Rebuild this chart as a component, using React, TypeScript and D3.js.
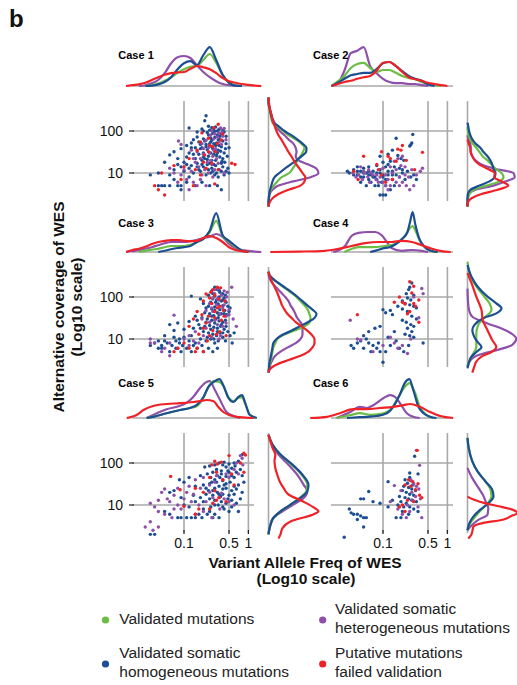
import React from 'react';
import * as d3 from 'd3';

type Pair = [number, number];

// ---------- labels ----------
const CASE_LABELS = ['Case 1', 'Case 2', 'Case 3', 'Case 4', 'Case 5', 'Case 6'];
const X_TICKS = [0.1, 0.5, 1];
const X_TICK_LABELS = ['0.1', '0.5', '1'];
const Y_TICKS = [10, 100];
const Y_TICK_LABELS = ['10', '100'];
const LEGEND_ITEMS = [
  { key: 'green', lines: ['Validated mutations'] },
  { key: 'purple', lines: ['Validated somatic', 'heterogeneous mutations'] },
  { key: 'blue', lines: ['Validated somatic', 'homogeneous mutations'] },
  { key: 'red', lines: ['Putative mutations', 'failed validation'] },
];
const COLORS: Record<string, string> = {
  green: '#6cbd45',
  blue: '#1c4f92',
  purple: '#8e50aa',
  red: '#ee2227',
};

// helper: density values sampled every 0.1 (log10 units) starting at `start`
const grid = (start: number, values: number[]): Pair[] =>
  values.map((v, i) => [Math.round((start + i * 0.1) * 100) / 100, v]);

// ---------- scatter points [VAF, alt coverage] ----------
const case1Blue: Pair[] = [[0.22,230],[0.21,175],[0.12,118],[0.19,112],[0.27,120],[0.25,105],[0.3,98],[0.35,110],[0.28,88],[0.33,80],[0.38,85],[0.24,80],[0.16,72],[0.2,65],[0.3,70],[0.36,62],[0.42,95],[0.27,60],[0.14,62],[0.45,75],
[0.11,45],[0.13,52],[0.15,40],[0.18,48],[0.22,42],[0.25,50],[0.28,38],[0.31,45],[0.34,35],[0.38,42],[0.42,30],[0.45,50],[0.2,30],[0.17,28],[0.12,30],[0.09,38],[0.07,32],[0.24,25],[0.29,28],[0.36,24],[0.4,22],[0.15,22],[0.19,20],[0.11,24],[0.06,27],[0.27,20],
[0.05,18],[0.08,16],[0.1,18],[0.13,15],[0.16,17],[0.2,14],[0.23,16],[0.27,13],[0.31,15],[0.35,12],[0.4,14],[0.45,11],[0.07,12],[0.1,11],[0.14,10],[0.18,11],[0.22,9],[0.26,10],[0.3,9],[0.5,10],[0.04,10],[0.03,9],[0.06,9],[0.12,8],[0.34,8],
[0.04,5],[0.045,5],[0.05,5],[0.06,5],[0.08,5],[0.09,5],[0.15,5],[0.19,6],[0.25,5],[0.33,5],[0.38,4],[0.11,6],[0.07,7],[0.09,4],
[0.17,55],[0.21,58],[0.26,68],[0.32,52],[0.4,58],[0.23,36],[0.19,40],[0.3,33],[0.35,45],[0.26,30],[0.32,26],[0.14,28],[0.21,22],[0.25,17],[0.29,16],[0.17,12],[0.24,12],[0.38,17],[0.43,18],[0.47,25],[0.5,40],[0.36,75],[0.29,105],[0.23,92],
[0.16,95],[0.2,100],[0.24,130],[0.31,125],[0.33,100],[0.4,105],[0.26,55],[0.22,48],[0.29,50],[0.34,62],[0.18,38],[0.13,40],[0.27,42],[0.33,30],[0.37,33],[0.44,38],[0.2,24],[0.23,21],[0.31,20],[0.39,19],[0.16,14],[0.19,16],[0.28,11],[0.32,10],[0.38,11],[0.42,9],[0.48,13],[0.09,14],[0.11,16],[0.08,22],[0.12,13]];
const case1Purple: Pair[] = [[0.37,118],[0.42,115],[0.39,95],[0.3,85],[0.26,80],[0.33,72],[0.29,65],[0.35,55],[0.38,48],[0.22,60],[0.19,50],[0.082,58],[0.09,48],[0.13,35],[0.16,32],[0.2,28],[0.25,30],[0.28,25],[0.32,22],[0.15,18],[0.17,14],[0.21,12],[0.24,10],[0.13,11],[0.1,12],[0.07,10],[0.06,13],[0.3,12],[0.34,17],[0.27,16],[0.11,7],[0.14,6],[0.18,7],[0.22,5],[0.16,5],[0.08,6],[0.12,4],[0.42,10],[0.24,40],[0.31,38],[0.18,22],[0.23,18],
[0.27,100],[0.35,90],[0.4,75],[0.45,62],[0.25,45],[0.29,35],[0.2,38],[0.14,22],[0.26,20],[0.19,9],[0.28,8],[0.09,9]];
const case1Red: Pair[] = [[0.34,145],[0.19,90],[0.24,67],[0.28,42],[0.24,32],[0.21,27],[0.16,35],[0.12,22],[0.1,14],[0.07,15],[0.045,10],[0.035,5],[0.04,4],[0.05,3],[0.14,5],[0.3,5.5],[0.55,17],[0.62,16],[0.27,17],[0.22,13],[0.18,9],[0.34,12],[0.38,61],[0.31,32],[0.25,46],[0.2,18],
[0.29,120],[0.4,85],[0.33,50],[0.18,55],[0.15,12],[0.09,7]];

const case2Blue: Pair[] = [[0.29,83],[0.16,67],[0.28,52],[0.27,47],[0.26,44],[0.14,35],[0.12,28],[0.17,26],[0.19,22],[0.21,20],[0.09,25],[0.1,18],[0.12,16],[0.15,14],[0.18,13],[0.2,12],[0.24,11],[0.3,9],[0.33,7],[0.27,8],[0.22,7],[0.18,8],[0.14,9],[0.12,11],[0.11,7],[0.1,9],[0.09,12],[0.08,10],[0.075,8],[0.07,11],[0.065,9],[0.06,7],[0.055,10],[0.05,8],[0.045,11],[0.04,9],[0.035,12],[0.03,10],[0.028,11],[0.045,6],[0.055,5],[0.065,6],[0.075,5],[0.085,5],[0.095,6],[0.11,5],[0.13,4],[0.15,5],[0.09,3],[0.1,3],[0.11,3],[0.05,13],[0.06,14],[0.04,14],[0.13,19],[0.08,15],
[0.035,9],[0.04,11],[0.05,10],[0.06,9],[0.07,8],[0.08,7],[0.09,10],[0.1,8],[0.12,9],[0.14,11],[0.16,9],[0.2,10],[0.11,14],[0.06,11],[0.045,8]];
const case2Purple: Pair[] = [[0.034,10],[0.038,8],[0.042,9],[0.048,7],[0.052,10],[0.058,8],[0.062,6],[0.07,9],[0.078,7],[0.085,6],[0.09,8],[0.1,6],[0.11,5],[0.12,7],[0.13,5],[0.14,7],[0.16,6],[0.18,5],[0.2,6],[0.23,5],[0.26,4],[0.3,5],[0.33,9],[0.38,11],[0.41,13],[0.16,12],[0.19,15],[0.13,14],[0.15,19],[0.17,22],[0.2,25],[0.22,14],[0.1,13],[0.06,12],[0.045,14],[0.25,8],[0.28,12],
[0.05,11],[0.065,10],[0.08,9],[0.11,9],[0.14,10],[0.18,8],[0.22,9],[0.12,4]];
const case2Red: Pair[] = [[0.17,37],[0.19,35],[0.41,31],[0.095,32],[0.05,25],[0.08,16],[0.085,12],[0.095,9],[0.12,25],[0.13,22],[0.23,20],[0.31,12],[0.16,19],[0.11,6],[0.041,7],[0.035,11],[0.14,7],[0.2,45]];

const case3Blue: Pair[] = [[0.3,170],[0.33,150],[0.27,140],[0.36,130],[0.4,120],[0.24,110],[0.3,105],[0.35,100],[0.42,95],[0.28,90],[0.32,85],[0.38,80],[0.45,75],[0.26,75],[0.2,70],[0.34,68],[0.4,62],[0.48,60],[0.3,58],[0.22,55],[0.27,52],[0.36,50],[0.43,48],[0.5,45],[0.18,90],[0.13,105],[0.33,42],[0.38,40],[0.25,40],[0.46,38],[0.29,36],
[0.15,35],[0.19,32],[0.23,30],[0.27,28],[0.31,30],[0.35,27],[0.4,25],[0.44,28],[0.12,26],[0.08,24],[0.06,22],[0.17,22],[0.21,20],[0.25,21],[0.29,19],[0.33,18],[0.37,20],[0.42,17],[0.48,15],[0.14,18],[0.1,17],[0.07,16],[0.2,15],[0.24,14],[0.28,13],[0.32,12],[0.36,14],[0.52,12],[0.56,8],
[0.05,12],[0.04,9],[0.035,8],[0.045,7],[0.055,8],[0.065,7],[0.075,9],[0.085,8],[0.095,7],[0.12,9],[0.15,8],[0.18,10],[0.22,9],[0.26,10],[0.3,8],[0.34,9],[0.4,11],[0.045,6],[0.06,5],[0.075,6],[0.09,5],[0.11,6],[0.13,5],[0.16,6],[0.2,5],[0.24,6],[0.28,5],[0.33,6],[0.6,14],[0.07,11],[0.1,11],
[0.28,120],[0.35,145],[0.44,110],[0.31,75],[0.4,85],[0.24,60],[0.3,48],[0.35,38],[0.42,40],[0.52,55],[0.21,42],[0.27,35],[0.34,32],[0.16,28],[0.22,25],[0.3,24],[0.38,22],[0.45,20],[0.18,18],[0.26,17],[0.33,15],[0.4,14],[0.13,12],[0.23,11],[0.29,10],[0.44,9],[0.05,9],[0.03,7],[0.04,6],[0.085,10],[0.14,7],[0.19,7]];
const case3Purple: Pair[] = [[0.55,170],[0.34,160],[0.42,140],[0.3,120],[0.38,110],[0.46,100],[0.28,95],[0.35,85],[0.44,80],[0.25,70],[0.32,65],[0.4,55],[0.5,50],[0.22,48],[0.28,45],[0.36,40],[0.45,35],[0.58,30],[0.19,30],[0.25,25],[0.33,22],[0.4,20],[0.07,37],[0.15,15],[0.2,12],[0.27,11],[0.35,10],[0.1,10],[0.12,12],[0.06,8],[0.03,10],[0.035,8],[0.05,6],[0.08,6],[0.06,4],[0.12,7],[0.65,20],[0.17,8],
[0.3,150],[0.47,130],[0.33,90],[0.27,55],[0.42,65],[0.5,38],[0.3,28],[0.45,24],[0.22,18],[0.37,12],[0.14,9],[0.03,8],[0.045,5]];
const case3Red: Pair[] = [[0.33,170],[0.37,165],[0.28,150],[0.22,118],[0.3,110],[0.25,95],[0.2,80],[0.27,70],[0.36,60],[0.33,55],[0.41,48],[0.16,45],[0.19,38],[0.24,35],[0.3,32],[0.38,28],[0.14,30],[0.12,20],[0.2,18],[0.28,16],[0.36,15],[0.45,12],[0.23,9],[0.16,6],[0.15,5],[0.1,8],[0.08,6],[0.07,5],[0.17,13],[0.25,12],[0.32,13],
[0.26,130],[0.35,90],[0.43,80],[0.3,45],[0.22,24],[0.42,35],[0.12,6],[0.2,5]];

const case4Blue: Pair[] = [[0.28,215],[0.26,170],[0.25,150],[0.23,120],[0.3,110],[0.24,95],[0.27,85],[0.2,80],[0.22,70],[0.26,65],[0.3,60],[0.33,55],[0.17,60],[0.2,52],[0.24,45],[0.13,48],[0.1,50],[0.11,42],[0.14,38],[0.28,35],[0.33,30],[0.2,28],[0.23,25],[0.27,22],[0.3,20],[0.24,18],[0.28,15],[0.22,13],[0.26,12],[0.3,11],[0.15,15],[0.09,20],[0.075,18],[0.06,15],[0.05,12],[0.055,10],[0.045,9],[0.04,8],[0.032,7],[0.035,6],[0.05,6],[0.06,8],[0.07,7],[0.08,6],[0.09,5],[0.11,5],[0.13,7],[0.16,9],[0.18,6],[0.21,5],[0.25,7],[0.42,8],[0.1,2.8],[0.065,5],[0.085,8],[0.12,11]];
const case4Purple: Pair[] = [[0.4,160],[0.42,120],[0.3,100],[0.031,28],[0.04,10],[0.045,9.5],[0.07,5],[0.1,7],[0.13,11],[0.15,8],[0.17,6],[0.2,7],[0.24,4.5],[0.27,10],[0.36,32]];
const case4Red: Pair[] = [[0.26,230],[0.3,180],[0.28,125],[0.18,100],[0.2,75],[0.22,68],[0.3,70],[0.36,85],[0.32,60],[0.24,40],[0.36,25],[0.04,38],[0.26,45],[0.15,75]];

const case5Blue: Pair[] = [[0.8,158],[0.7,110],[0.6,100],[0.5,95],[0.42,105],[0.35,100],[0.3,90],[0.25,85],[0.21,80],[0.45,80],[0.55,75],[0.75,70],[0.65,60],[0.38,65],[0.28,60],[0.23,55],[0.18,50],[0.12,45],[0.33,50],[0.45,48],[0.6,45],[0.8,50],[0.3,40],[0.4,38],[0.52,35],[0.25,32],[0.2,30],[0.15,28],[0.35,28],[0.45,25],[0.7,30],[0.85,35],[0.1,35],[0.07,22],[0.06,20],[0.28,22],[0.33,20],[0.4,18],[0.5,17],[0.6,18],[0.8,20],[0.22,18],[0.18,15],[0.25,14],[0.3,13],[0.38,12],[0.45,11],[0.55,13],[0.75,14],[0.15,12],[0.1,10],[0.12,9],[0.2,8],[0.26,9],[0.34,10],[0.42,8],[0.5,7],[0.7,7],[0.05,7],[0.06,6],[0.08,5],[0.09,5],[0.11,5],[0.13,5],[0.15,5],[0.19,5],[0.23,6],[0.3,6],[0.35,5],[0.03,2],[0.035,2],
[0.32,70],[0.36,45],[0.27,35],[0.42,30],[0.5,60],[0.3,25],[0.24,22],[0.37,16],[0.65,24],
[0.4,90],[0.62,85],[0.48,65],[0.55,50],[0.38,55],[0.26,45],[0.32,35],[0.45,32],[0.6,28],[0.22,25],[0.4,24],[0.55,22],[0.28,17],[0.35,18],[0.48,14],[0.65,11],[0.2,12],[0.3,10],[0.4,9],[0.25,7],[0.55,9],[0.17,6],[0.28,5],[0.14,17],[0.09,15],[0.085,40]];
const case5Purple: Pair[] = [[0.75,150],[0.8,130],[0.82,90],[0.6,70],[0.7,55],[0.5,45],[0.4,40],[0.3,35],[0.2,45],[0.15,40],[0.12,28],[0.08,25],[0.05,24],[0.045,20],[0.07,17],[0.055,14],[0.1,14],[0.13,12],[0.17,10],[0.22,12],[0.25,20],[0.28,15],[0.35,15],[0.42,14],[0.5,12],[0.6,10],[0.08,10],[0.035,9],[0.04,7],[0.05,6],[0.065,5],[0.09,8],[0.03,4],[0.04,3],[0.025,3],[0.033,2.5],[0.2,7],[0.27,5],[0.36,8],
[0.65,100],[0.45,55],[0.32,50],[0.25,30],[0.18,25],[0.3,22],[0.38,19],[0.14,18],[0.11,20],[0.06,12],[0.07,8],[0.15,6],[0.04,13],[0.03,11]];
const case5Red: Pair[] = [[0.85,170],[0.9,155],[0.5,150],[0.3,110],[0.33,95],[0.27,90],[0.75,100],[0.85,60],[0.55,55],[0.4,40],[0.062,48],[0.087,23],[0.1,9.3],[0.15,25],[0.2,20],[0.3,22],[0.35,15],[0.45,12],[0.17,8],[0.25,8],[0.15,6],[0.28,11],
[0.38,105],[0.32,60],[0.25,45],[0.6,30],[0.32,13]];

const case6Blue: Pair[] = [[0.31,145],[0.26,58],[0.35,55],[0.12,36],[0.26,45],[0.22,40],[0.27,38],[0.24,33],[0.29,30],[0.21,28],[0.25,26],[0.28,24],[0.32,22],[0.2,22],[0.23,20],[0.26,18],[0.3,17],[0.18,16],[0.22,15],[0.25,14],[0.28,13],[0.33,12],[0.19,12],[0.23,11],[0.17,10],[0.21,9],[0.26,9],[0.3,8],[0.2,7],[0.25,6],[0.35,7],[0.16,5],[0.19,5],[0.06,21],[0.05,14],[0.045,14],[0.07,12],[0.03,8],[0.032,6.5],[0.035,6],[0.04,6],[0.045,5.5],[0.05,5],[0.055,5],[0.04,4.5],[0.05,3],[0.025,1.7],[0.12,9],[0.09,11],[0.14,13]];
const case6Purple: Pair[] = [[0.33,200],[0.37,88],[0.15,29],[0.19,22],[0.27,40],[0.3,32],[0.33,28],[0.36,24],[0.28,20],[0.32,16],[0.38,14],[0.29,13],[0.24,10],[0.35,9],[0.26,7],[0.2,6],[0.4,5],[0.13,12],[0.17,8],[0.23,5]];
const case6Red: Pair[] = [[0.34,200],[0.25,40],[0.29,36],[0.22,30],[0.35,32],[0.27,28],[0.32,23],[0.37,17],[0.4,15],[0.24,13],[0.2,10],[0.18,9],[0.22,7],[0.3,12]];

// ---------- marginal densities on VAF (top) : [log10 VAF, density] ----------
const case1TopGreen = grid(-1.6, [0,0.02,0.06,0.13,0.22,0.33,0.42,0.48,0.5,0.65,0.8,0.58,0.27,0.08,0.02,0]);
const case1TopBlue = grid(-1.6, [0,0.01,0.04,0.1,0.22,0.42,0.57,0.62,0.52,0.77,0.97,0.65,0.28,0.08,0.01,0]);
const case1TopPurple = grid(-1.7, [0,0.02,0.07,0.15,0.32,0.57,0.72,0.75,0.7,0.52,0.35,0.22,0.12,0.05,0.02,0]);
const case1TopRed = grid(-1.9, [0,0.02,0.04,0.08,0.15,0.22,0.28,0.32,0.34,0.35,0.43,0.5,0.47,0.42,0.32,0.2,0.12,0.08,0.05,0.03,0.01,0]);

const case2TopGreen = grid(-1.8, [0,0.12,0.25,0.45,0.55,0.58,0.45,0.35,0.4,0.4,0.33,0.25,0.2,0.17,0.1,0.05,0.02,0]);
const case2TopBlue = grid(-1.8, [0,0.08,0.18,0.27,0.3,0.33,0.33,0.42,0.57,0.6,0.5,0.37,0.25,0.18,0.13,0.04,0]);
const case2TopPurple = grid(-1.8, [0,0.07,0.38,0.82,0.88,0.97,0.5,0.32,0.18,0.1,0.07,0.07,0.05,0.05,0.02,0]);
const case2TopRed = grid(-1.8, [0,0.05,0.1,0.13,0.18,0.22,0.25,0.38,0.58,0.6,0.5,0.35,0.22,0.17,0.13,0.08,0.05,0.02,0]);

const case3TopGreen = grid(-1.7, [0,0.03,0.06,0.08,0.12,0.15,0.15,0.15,0.18,0.25,0.33,0.5,0.78,0.4,0.25,0.13,0.03,0]);
const case3TopBlue = grid(-1.4, [0,0.03,0.07,0.1,0.12,0.15,0.25,0.33,0.53,0.97,0.42,0.28,0.15,0.03,0]);
const case3TopPurple = grid(-1.9, [0,0.02,0.05,0.08,0.12,0.17,0.22,0.25,0.25,0.25,0.27,0.3,0.35,0.38,0.45,0.38,0.2,0.1,0.05,0.03,0.01,0]);
const case3TopRed = grid(-1.9, [0,0.05,0.08,0.13,0.2,0.25,0.28,0.3,0.3,0.28,0.27,0.28,0.35,0.4,0.35,0.25,0.12,0.05,0.02,0]);

const case4TopGreen: Pair[] = [[-1.6,0],[-1.5,0.07],[-1.38,0.12],[-1.18,0.12],[-0.97,0.15],[-0.81,0.2],[-0.66,0.4],[-0.54,0.65],[-0.5,0.55],[-0.43,0.28],[-0.35,0.12],[-0.24,0.02],[-0.15,0]];
const case4TopBlue: Pair[] = [[-1.2,0],[-1.1,0.04],[-1.0,0.09],[-0.9,0.12],[-0.8,0.2],[-0.7,0.33],[-0.62,0.5],[-0.58,0.75],[-0.54,1.0],[-0.5,0.7],[-0.44,0.35],[-0.35,0.12],[-0.25,0.03],[-0.15,0]];
const case4TopPurple: Pair[] = [[-1.77,0],[-1.59,0.15],[-1.49,0.4],[-1.38,0.48],[-1.23,0.5],[-1.12,0.5],[-1.02,0.42],[-0.94,0.25],[-0.87,0.1],[-0.71,0.03],[-0.55,0.05],[-0.4,0.03],[-0.3,0]];
const case4TopRed: Pair[] = [[-2.75,0],[-2.3,0.01],[-1.9,0.03],[-1.69,0.08],[-1.49,0.15],[-1.28,0.22],[-1.07,0.25],[-0.87,0.25],[-0.71,0.28],[-0.55,0.25],[-0.4,0.17],[-0.24,0.08],[-0.09,0.02],[0.05,0]];

const case5TopGreen: Pair[] = [[-1.58,0],[-1.48,0.03],[-1.27,0.12],[-1.06,0.2],[-0.91,0.25],[-0.8,0.3],[-0.7,0.5],[-0.62,0.78],[-0.54,0.92],[-0.45,0.9],[-0.39,0.8],[-0.31,0.52],[-0.23,0.42],[-0.16,0.5],[-0.1,0.52],[-0.05,0.36],[0.02,0.08],[0.13,0]];
const case5TopBlue: Pair[] = [[-1.58,0],[-1.48,0.03],[-1.27,0.12],[-1.06,0.2],[-0.91,0.25],[-0.8,0.33],[-0.7,0.52],[-0.62,0.78],[-0.54,0.9],[-0.45,0.97],[-0.39,0.82],[-0.31,0.5],[-0.23,0.4],[-0.16,0.52],[-0.1,0.57],[-0.05,0.38],[0.02,0.08],[0.13,0]];
const case5TopPurple: Pair[] = [[-1.58,0],[-1.42,0.12],[-1.27,0.22],[-1.11,0.28],[-0.96,0.38],[-0.86,0.52],[-0.75,0.75],[-0.65,0.9],[-0.6,0.92],[-0.52,0.7],[-0.44,0.45],[-0.34,0.15],[-0.23,0.05],[-0.13,0]];
const case5TopRed: Pair[] = [[-1.89,0],[-1.73,0.08],[-1.63,0.2],[-1.48,0.3],[-1.27,0.35],[-1.06,0.37],[-0.86,0.4],[-0.75,0.42],[-0.65,0.45],[-0.54,0.42],[-0.47,0.28],[-0.39,0.15],[-0.29,0.07],[-0.13,0.02],[0.08,0]];

const case6TopGreen: Pair[] = [[-1.72,0],[-1.51,0.07],[-1.36,0.12],[-1.2,0.08],[-1.05,0.1],[-0.89,0.2],[-0.76,0.52],[-0.66,0.78],[-0.59,0.87],[-0.5,0.62],[-0.43,0.28],[-0.32,0.07],[-0.22,0]];
const case6TopBlue: Pair[] = [[-1.56,0],[-1.36,0.02],[-1.25,0.03],[-1.1,0.05],[-0.94,0.12],[-0.84,0.28],[-0.74,0.58],[-0.66,0.88],[-0.59,0.97],[-0.53,0.7],[-0.45,0.28],[-0.37,0.12],[-0.27,0.03],[-0.17,0]];
const case6TopPurple: Pair[] = [[-1.72,0],[-1.51,0.15],[-1.36,0.28],[-1.25,0.25],[-1.15,0.32],[-0.99,0.5],[-0.89,0.57],[-0.81,0.52],[-0.74,0.38],[-0.63,0.12],[-0.53,0.03],[-0.43,0]];
const case6TopRed: Pair[] = [[-2.13,0],[-1.87,0.03],[-1.67,0.12],[-1.46,0.22],[-1.25,0.22],[-1.05,0.25],[-0.84,0.28],[-0.68,0.32],[-0.58,0.35],[-0.43,0.28],[-0.27,0.15],[-0.11,0.05],[0.09,0]];

// ---------- marginal densities on coverage (right) : [log10 coverage, density] ----------
const case1RightGreen = grid(0.2, [0,0,0.01,0.02,0.06,0.13,0.22,0.33,0.52,0.6,0.67,0.72,0.8,0.86,0.9,0.82,0.68,0.5,0.37,0.24,0.1,0.07,0.05,0.03,0.01,0,0]);
const case1RightBlue = grid(0.2, [0,0,0.01,0.02,0.04,0.07,0.1,0.15,0.27,0.4,0.55,0.7,0.83,0.94,0.95,0.85,0.72,0.57,0.4,0.27,0.13,0.09,0.06,0.04,0.01,0,0]);
const case1RightPurple = grid(0.2, [0,0,0.01,0.03,0.1,0.25,0.62,1.05,1.25,1.2,1.0,0.75,0.68,0.7,0.68,0.62,0.5,0.4,0.28,0.2,0.15,0.1,0.07,0.04,0.02,0,0]);
const case1RightRed = grid(0.2, [0,0.03,0.1,0.25,0.5,0.8,0.9,0.92,0.85,0.78,0.7,0.63,0.57,0.5,0.44,0.38,0.32,0.25,0.2,0.16,0.12,0.09,0.07,0.04,0.02,0.01,0]);

const case2RightGreen = grid(0.2, [0,0,0.01,0.05,0.15,0.48,0.8,0.9,0.85,0.7,0.6,0.5,0.38,0.3,0.22,0.13,0.07,0.03,0.01,0]);
const case2RightBlue = grid(0.2, [0,0,0,0.01,0.07,0.3,0.55,0.68,0.7,0.65,0.62,0.57,0.5,0.4,0.32,0.2,0.12,0.07,0.04,0.02,0]);
const case2RightPurple = grid(0.2, [0,0,0.01,0.04,0.2,0.65,0.95,1.18,1.15,0.68,0.35,0.2,0.12,0.08,0.08,0.07,0.02,0]);
const case2RightRed = grid(0.2, [0,0.01,0.1,0.35,0.75,1.02,0.85,0.67,0.68,0.5,0.3,0.18,0.12,0.08,0.07,0.03,0]);

const case3RightGreen = grid(0.2, [0,0.01,0.03,0.06,0.08,0.1,0.12,0.17,0.22,0.38,0.65,0.9,1.03,1.05,1.02,0.98,0.9,0.8,0.7,0.57,0.43,0.28,0.15,0.04,0]);
const case3RightBlue = grid(0.2, [0,0.01,0.02,0.04,0.06,0.08,0.1,0.12,0.2,0.35,0.58,0.78,0.98,1.15,1.2,1.1,0.97,0.85,0.73,0.6,0.45,0.3,0.15,0.04,0]);
const case3RightPurple = grid(0.2, [0,0.02,0.05,0.1,0.17,0.3,0.48,0.68,0.8,0.85,0.85,0.85,0.8,0.72,0.67,0.62,0.55,0.5,0.42,0.32,0.22,0.12,0.05,0.01,0]);
const case3RightRed = grid(0.2, [0,0.05,0.22,0.5,0.8,1.0,1.1,1.15,1.15,1.08,0.97,0.83,0.68,0.58,0.47,0.4,0.34,0.3,0.26,0.22,0.17,0.12,0.07,0.03,0]);

const case4RightGreen: Pair[] = [[0.34,0],[0.5,0.05],[0.66,0.15],[0.81,0.22],[0.97,0.22],[1.13,0.22],[1.29,0.25],[1.45,0.35],[1.57,0.5],[1.69,0.6],[1.85,0.55],[2.01,0.42],[2.25,0.22],[2.48,0.08],[2.84,0]];
const case4RightBlue: Pair[] = [[0.3,0],[0.42,0.03],[0.58,0.1],[0.69,0.22],[0.81,0.35],[0.93,0.25],[1.05,0.17],[1.21,0.12],[1.33,0.17],[1.49,0.38],[1.61,0.72],[1.73,0.85],[1.85,0.72],[2.01,0.5],[2.25,0.25],[2.48,0.1],[2.76,0]];
const case4RightPurple: Pair[] = [[0.35,0],[0.46,0.05],[0.58,0.18],[0.66,0.42],[0.74,0.75],[0.86,1.12],[1.01,1.22],[1.13,1.1],[1.25,0.85],[1.37,0.5],[1.53,0.12],[1.65,0.05],[1.8,0.02],[2.2,0]];
const case4RightRed: Pair[] = [[0.2,0.12],[0.34,0.17],[0.46,0.22],[0.58,0.35],[0.69,0.6],[0.81,0.72],[0.97,0.62],[1.21,0.5],[1.45,0.38],[1.69,0.35],[2.01,0.22],[2.33,0.1],[2.57,0]];

const case5RightGreen: Pair[] = [[0.3,0],[0.37,0.01],[0.53,0.05],[0.69,0.12],[0.85,0.3],[1.01,0.55],[1.17,0.78],[1.33,0.95],[1.48,0.97],[1.72,0.83],[1.96,0.58],[2.2,0.3],[2.44,0.1],[2.67,0]];
const case5RightBlue: Pair[] = [[0.3,0],[0.37,0.01],[0.53,0.05],[0.69,0.12],[0.85,0.3],[1.01,0.55],[1.17,0.8],[1.33,0.97],[1.48,1.0],[1.72,0.85],[1.96,0.6],[2.2,0.3],[2.44,0.1],[2.67,0]];
const case5RightPurple: Pair[] = [[0.3,0],[0.37,0.01],[0.53,0.05],[0.69,0.12],[0.85,0.35],[1.01,0.62],[1.17,0.88],[1.33,0.97],[1.48,0.88],[1.72,0.72],[1.96,0.5],[2.2,0.25],[2.44,0.08],[2.67,0]];
const case5RightRed: Pair[] = [[0.2,0.25],[0.3,0.3],[0.45,0.35],[0.61,0.55],[0.77,1.1],[0.85,1.25],[0.93,1.15],[1.09,0.85],[1.25,0.5],[1.4,0.38],[1.56,0.28],[1.72,0.22],[1.88,0.17],[2.04,0.15],[2.2,0.17],[2.36,0.1],[2.52,0.05],[2.67,0]];

const case6RightGreen: Pair[] = [[0.4,0],[0.57,0.07],[0.73,0.2],[0.89,0.35],[1.04,0.5],[1.2,0.6],[1.36,0.58],[1.56,0.45],[1.8,0.25],[2.04,0.12],[2.36,0.03],[2.6,0]];
const case6RightBlue: Pair[] = [[0.4,0],[0.57,0.05],[0.73,0.15],[0.89,0.32],[1.04,0.52],[1.2,0.65],[1.36,0.62],[1.56,0.45],[1.8,0.25],[2.04,0.12],[2.36,0.03],[2.6,0]];
const case6RightPurple: Pair[] = [[0.4,0],[0.53,0.12],[0.65,0.28],[0.77,0.5],[0.93,0.52],[1.09,0.45],[1.25,0.38],[1.4,0.28],[1.64,0.12],[1.88,0]];
const case6RightRed: Pair[] = [[0.2,0.02],[0.3,0.1],[0.37,0.12],[0.49,0.15],[0.57,0.38],[0.65,0.88],[0.73,1.08],[0.81,1.25],[0.89,1.12],[0.97,0.78],[1.04,0.45],[1.13,0.15],[1.2,0]];

const CASES = [
  { points: { blue: case1Blue, purple: case1Purple, red: case1Red },
    top: { purple: case1TopPurple, green: case1TopGreen, blue: case1TopBlue, red: case1TopRed },
    right: { purple: case1RightPurple, green: case1RightGreen, blue: case1RightBlue, red: case1RightRed } },
  { points: { blue: case2Blue, purple: case2Purple, red: case2Red },
    top: { purple: case2TopPurple, green: case2TopGreen, blue: case2TopBlue, red: case2TopRed },
    right: { purple: case2RightPurple, green: case2RightGreen, blue: case2RightBlue, red: case2RightRed } },
  { points: { blue: case3Blue, purple: case3Purple, red: case3Red },
    top: { purple: case3TopPurple, green: case3TopGreen, blue: case3TopBlue, red: case3TopRed },
    right: { purple: case3RightPurple, green: case3RightGreen, blue: case3RightBlue, red: case3RightRed } },
  { points: { blue: case4Blue, purple: case4Purple, red: case4Red },
    top: { purple: case4TopPurple, green: case4TopGreen, blue: case4TopBlue, red: case4TopRed },
    right: { purple: case4RightPurple, green: case4RightGreen, blue: case4RightBlue, red: case4RightRed } },
  { points: { blue: case5Blue, purple: case5Purple, red: case5Red },
    top: { purple: case5TopPurple, green: case5TopGreen, blue: case5TopBlue, red: case5TopRed },
    right: { purple: case5RightPurple, green: case5RightGreen, blue: case5RightBlue, red: case5RightRed } },
  { points: { blue: case6Blue, purple: case6Purple, red: case6Red },
    top: { purple: case6TopPurple, green: case6TopGreen, blue: case6TopBlue, red: case6TopRed },
    right: { purple: case6RightPurple, green: case6RightGreen, blue: case6RightBlue, red: case6RightRed } },
];

// ---------- layout ----------
const W = 517;
const H = 685;
const COL_X01 = [184, 383];      // x of VAF = 0.1
const ROW_Y100 = [131, 297, 463]; // y of coverage = 100
const CASE_LABEL_Y = [58.6, 226.5, 387];
const DECADE_X = 64.4;
const DECADE_Y = 42;
const GRID = '#a9a9a9';
const FONT = '"Liberation Sans", Arial, Helvetica, sans-serif';

const Panel: React.FC<{ idx: number }> = ({ idx }) => {
  const col = idx % 2;
  const row = Math.floor(idx / 2);
  const x01 = COL_X01[col];
  const y100 = ROW_Y100[row];
  const c = CASES[idx];
  const x = d3.scaleLog().domain([0.1, 1]).range([x01, x01 + DECADE_X]);
  const y = d3.scaleLog().domain([10, 100]).range([y100 + DECADE_Y, y100]);
  const dens = d3.scaleLinear().domain([0, 1]).range([0, 40]);
  const baseY = y100 - 45;
  const axisX = x01 + 84.5;
  const gx0 = x01 - 52;
  const gx1 = x01 + 70;
  const vy0 = y100 - 30;
  const vy1 = y100 + 70;

  const topLine = d3.line<Pair>()
    .x(d => x(Math.pow(10, d[0])))
    .y(d => baseY - dens(d[1]))
    .curve(d3.curveMonotoneX);
  const rightLine = d3.line<Pair>()
    .x(d => axisX + dens(d[1]))
    .y(d => y(Math.pow(10, d[0])))
    .curve(d3.curveMonotoneY);

  const order = ['purple', 'green', 'blue', 'red'];
  return (
    <g>
      {/* top density */}
      <line x1={gx0} x2={gx1} y1={baseY} y2={baseY} stroke={GRID} strokeWidth={1.6} />
      {order.map(k => (
        <path key={'t' + k} d={topLine((c.top as any)[k]) || ''} fill="none" stroke={COLORS[k]} strokeWidth={2.2} strokeLinejoin="round" />
      ))}
      <text x={col === 0 ? 118.3 : 313} y={CASE_LABEL_Y[row]} fontFamily={FONT} fontWeight="bold" fontSize={11}>{CASE_LABELS[idx]}</text>

      {/* scatter grid */}
      {Y_TICKS.map(t => (
        <line key={'h' + t} x1={gx0} x2={gx1} y1={y(t)} y2={y(t)} stroke={GRID} strokeWidth={1.6} />
      ))}
      {X_TICKS.map(t => (
        <line key={'v' + t} x1={x(t)} x2={x(t)} y1={vy0} y2={vy1} stroke={GRID} strokeWidth={1.6} />
      ))}
      {col === 0 && Y_TICKS.map((t, i) => (
        <g key={'yt' + t}>
          <line x1={gx0 - 3} x2={gx0 + 2} y1={y(t)} y2={y(t)} stroke="#222" strokeWidth={1.2} />
          <text x={gx0 - 9} y={y(t) + 5} textAnchor="end" fontFamily={FONT} fontSize={14} fill="#111">{Y_TICK_LABELS[i]}</text>
        </g>
      ))}
      {row === 2 && X_TICKS.map((t, i) => (
        <g key={'xt' + t}>
          <line x1={x(t)} x2={x(t)} y1={vy1 - 3} y2={vy1 + 1} stroke="#222" strokeWidth={1.2} />
          <text x={x(t)} y={548} textAnchor="middle" fontFamily={FONT} fontSize={14} fill="#111">{X_TICK_LABELS[i]}</text>
        </g>
      ))}

      {/* points */}
      {['blue', 'purple', 'red'].map(k => (
        <g key={'p' + k} fill={COLORS[k]}>
          {(c.points as any)[k].map((p: Pair, j: number) => (
            <circle key={j} cx={x(p[0])} cy={y(p[1])} r={1.7} />
          ))}
        </g>
      ))}

      {/* right density */}
      <line x1={axisX} x2={axisX} y1={vy0} y2={vy1} stroke={GRID} strokeWidth={1.6} />
      {order.map(k => (
        <path key={'r' + k} d={rightLine((c.right as any)[k]) || ''} fill="none" stroke={COLORS[k]} strokeWidth={2.2} strokeLinejoin="round" />
      ))}
    </g>
  );
};

export default function App() {
  return (
    <svg width={W} height={H} viewBox={`0 0 ${W} ${H}`}
      style={{ position: 'absolute', left: 0, top: 0, background: '#fff', display: 'block' }}>
      <rect x={0} y={0} width={W} height={H} fill="#fff" />
      <text x={9} y={27} fontFamily={FONT} fontWeight="bold" fontSize={24} fill="#111">b</text>

      {CASES.map((_, i) => <Panel key={i} idx={i} />)}

      {/* axis titles */}
      <g transform="translate(64,307) rotate(-90)">
        <text textAnchor="middle" fontFamily={FONT} fontWeight="bold" fontSize={15.5} fill="#111">Alternative coverage of WES</text>
      </g>
      <g transform="translate(82,307) rotate(-90)">
        <text textAnchor="middle" fontFamily={FONT} fontWeight="bold" fontSize={15.5} fill="#111">(Log10 scale)</text>
      </g>
      <text x={305} y={568} textAnchor="middle" fontFamily={FONT} fontWeight="bold" fontSize={15.5} fill="#111">Variant Allele Freq of WES</text>
      <text x={306} y={584} textAnchor="middle" fontFamily={FONT} fontWeight="bold" fontSize={15.5} fill="#111">(Log10 scale)</text>

      {/* legend */}
      {LEGEND_ITEMS.map((it, i) => {
        const lx = i % 2 === 0 ? 105.5 : 322.7;
        const ly = i < 2 ? 620 : 664;
        const tx = i % 2 === 0 ? 119.3 : 335;
        const firstBase = it.lines.length === 1 ? ly + 3.5 : ly - 5.6;
        return (
          <g key={it.key}>
            <circle cx={lx} cy={ly} r={3.6} fill={COLORS[it.key]} />
            {it.lines.map((ln, j) => (
              <text key={j} x={tx} y={firstBase + j * 18.3} fontFamily={FONT} fontSize={15.5} fill="#222">{ln}</text>
            ))}
          </g>
        );
      })}
    </svg>
  );
}
